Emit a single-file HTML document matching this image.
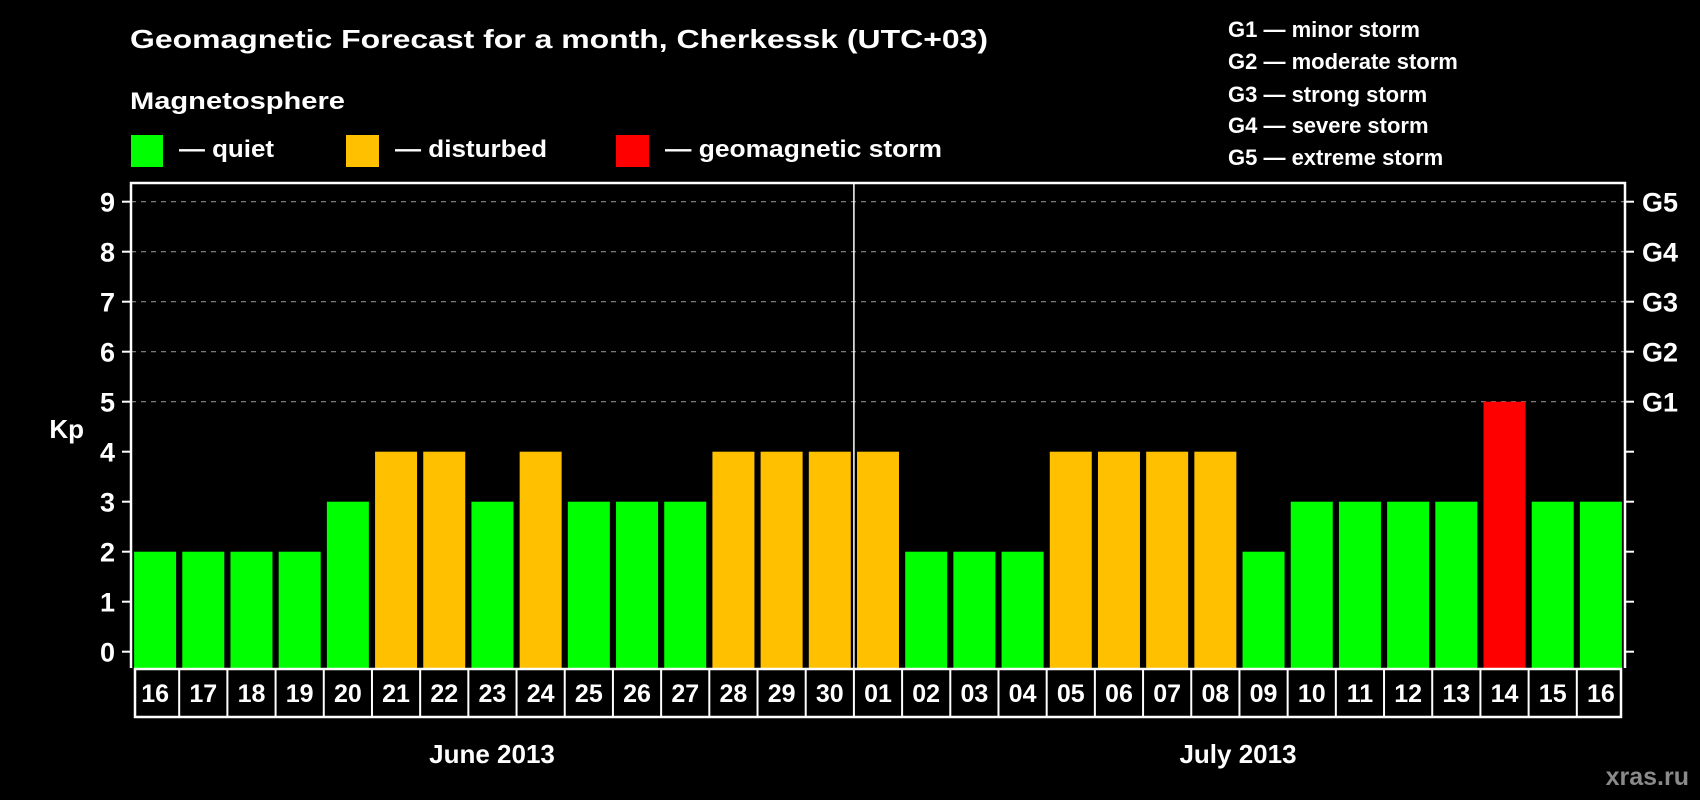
<!DOCTYPE html>
<html><head><meta charset="utf-8"><style>
html,body{margin:0;padding:0;background:#000;}
svg{display:block;font-family:"Liberation Sans",Arial,sans-serif;font-weight:bold;}
</style></head><body>
<svg id="chart" width="1700" height="800" viewBox="0 0 1700 800" xmlns="http://www.w3.org/2000/svg">
<rect x="0" y="0" width="1700" height="800" fill="#000"/>
<text x="130" y="48" font-size="26" fill="#fff" textLength="858" lengthAdjust="spacingAndGlyphs">Geomagnetic Forecast for a month, Cherkessk (UTC+03)</text>
<text x="130" y="109" font-size="24" fill="#fff" textLength="215" lengthAdjust="spacingAndGlyphs">Magnetosphere</text>
<g>
<rect x="131" y="135" width="32" height="32" fill="#00ff00"/>
<text x="179" y="157" font-size="24" fill="#fff" textLength="95" lengthAdjust="spacingAndGlyphs">— quiet</text>
<rect x="346" y="135" width="33" height="32" fill="#ffc000"/>
<text x="395" y="157" font-size="24" fill="#fff" textLength="152" lengthAdjust="spacingAndGlyphs">— disturbed</text>
<rect x="616" y="135" width="33" height="32" fill="#ff0000"/>
<text x="665" y="157" font-size="24" fill="#fff" textLength="277" lengthAdjust="spacingAndGlyphs">— geomagnetic storm</text>
</g>
<g font-size="22" fill="#fff">
<text x="1228" y="37">G1 — minor storm</text>
<text x="1228" y="69">G2 — moderate storm</text>
<text x="1228" y="102">G3 — strong storm</text>
<text x="1228" y="133">G4 — severe storm</text>
<text x="1228" y="165">G5 — extreme storm</text>
</g>
<text x="84" y="438" font-size="26" fill="#fff" text-anchor="end">Kp</text>
<text x="492" y="763" font-size="26" fill="#fff" text-anchor="middle">June 2013</text>
<text x="1238" y="763" font-size="26" fill="#fff" text-anchor="middle">July 2013</text>
<text x="1689" y="785" font-size="25" fill="#8a8a8a" text-anchor="end">xras.ru</text>
<g id="plot"></g>
</svg>
<script>
const days = ["16","17","18","19","20","21","22","23","24","25","26","27","28","29","30","01","02","03","04","05","06","07","08","09","10","11","12","13","14","15","16"];
const kpValues = [2,2,2,2,3,4,4,3,4,3,3,3,4,4,4,4,2,2,2,4,4,4,4,2,3,3,3,3,5,3,3];
const yTicks = [0,1,2,3,4,5,6,7,8,9];
const gLevels = [5,6,7,8,9];
const gLabels = ["G1","G2","G3","G4","G5"];
const monthSplitIndex = 15;

const NS = "http://www.w3.org/2000/svg";
const L = 131, R = 1625, TOP = 183, BOT = 668;
const band = (R - L) / days.length;
const barW = 42;
function xs(i){ return L + band * i; }
function ys(v){ return 651.7 - v * 50; }
function colorFor(v){ return v >= 5 ? "#ff0000" : (v >= 4 ? "#ffc000" : "#00ff00"); }
const g = document.getElementById("plot");
function mk(tag, attrs){ const e = document.createElementNS(NS, tag); for (const k in attrs) e.setAttribute(k, attrs[k]); g.appendChild(e); return e; }

gLevels.forEach((v) => {
  const ln = mk("line", {x1:L, x2:R, y1:ys(v), y2:ys(v), stroke:"#8c8c8c", "stroke-width":1.2, "stroke-dasharray":"5,5"});
  
  
});

kpValues.forEach((v, i) => {
  const b = mk("rect", {x: xs(i) + (band - barW)/2, y: ys(v), width: barW, height: BOT - ys(v), fill: colorFor(v)});
  
  
});

const frame = mk("path", {d:`M${L} ${BOT} L${L} ${TOP} L${R} ${TOP} L${R} ${BOT}`, fill:"none", stroke:"#fff", "stroke-width":2.5});



const divider = mk("line", {x1:xs(monthSplitIndex), x2:xs(monthSplitIndex), y1:TOP, y2:BOT, stroke:"#fff", "stroke-width":1.5});



yTicks.forEach((v) => {
  const t1 = mk("line", {x1:L-9, x2:L, y1:ys(v), y2:ys(v), stroke:"#fff", "stroke-width":2});
  
  
  const t2 = mk("line", {x1:R, x2:R+9, y1:ys(v), y2:ys(v), stroke:"#fff", "stroke-width":2});
  
  
  const lb = mk("text", {x:115, y:ys(v)+10, "font-size":27, fill:"#fff", "text-anchor":"end"});
  lb.textContent = v;
  
  
});

gLevels.forEach((v, i) => {
  const lb = mk("text", {x:1642, y:ys(v)+10, "font-size":27, fill:"#fff"});
  lb.textContent = gLabels[i];
  
  
});

const box = mk("rect", {x:L+4, y:669, width:R-L-8, height:48, fill:"none", stroke:"#fff", "stroke-width":2.5});


days.forEach((d, i) => {
  if (i > 0) {
    const sep = mk("line", {x1:xs(i), x2:xs(i), y1:669, y2:717, stroke:"#fff", "stroke-width":2});
    
    
  }
  const t = mk("text", {x:xs(i)+band/2, y:702, "font-size":25, fill:"#fff", "text-anchor":"middle"});
  t.textContent = d;
  
  
});
</script>
</body></html>
